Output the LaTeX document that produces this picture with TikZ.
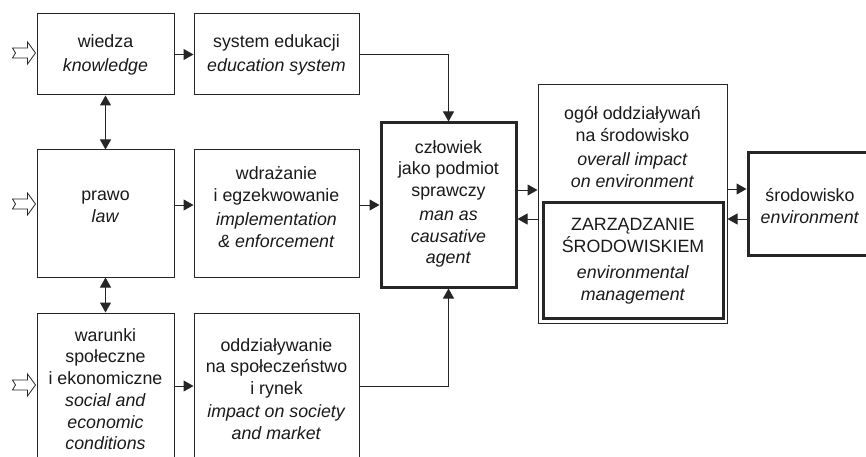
\documentclass[tikz,border=0pt]{standalone}
\usepackage{fontspec}
\setmainfont{Liberation Sans}
\usetikzlibrary{arrows.meta,calc}
\definecolor{ln}{HTML}{262626}
\definecolor{tx}{HTML}{1A1A1A}
\begin{document}
\begin{tikzpicture}[x=1pt,y=-1pt,
  box/.style={draw=ln, line width=1pt, inner sep=0pt},
  thickbox/.style={draw=ln, line width=3pt, inner sep=0pt},
  txt/.style={align=center, text=tx, inner sep=0pt, font=\fontsize{17.8}{21.5}\selectfont},
  arr/.style={draw=ln, line width=1pt, -{Triangle[length=10pt,width=11pt]}},
  darr/.style={draw=ln, line width=1pt, {Triangle[length=10pt,width=11pt]}-{Triangle[length=10pt,width=11pt]}},
  hollow/.pic={\draw[ln, line width=0.8pt, fill=white] (-23,-5) -- (-8,-5) -- (-8,-11) -- (0,0) -- (-8,11) -- (-8,5) -- (-23,5) -- (-20,0) -- cycle;}
]
\useasboundingbox (0,0) rectangle (866,457);
\clip (0,0) rectangle (866,457);
\fill[white] (0,0) rectangle (866,457);

% boxes
\node[box, minimum width=137pt, minimum height=81pt] (wiedza) at (105.5,54.5) {};
\node[box, minimum width=165pt, minimum height=81pt] (system) at (276.5,54.5) {};
\node[box, minimum width=137pt, minimum height=127pt] (prawo) at (105.5,213.5) {};
\node[box, minimum width=165pt, minimum height=127pt] (wdr) at (276.5,213.5) {};
\node[box, minimum width=137pt, minimum height=146pt] (warunki) at (105.5,386) {};
\node[box, minimum width=165pt, minimum height=146pt] (oddz) at (276.5,386) {};
\node[thickbox, minimum width=135pt, minimum height=164pt] (czl) at (448.5,205) {};
\node[box, minimum width=189pt, minimum height=238pt] (ogol) at (632.5,204) {};
\node[thickbox, minimum width=180pt, minimum height=116pt] (zarz) at (633,260) {};
\node[thickbox, minimum width=122pt, minimum height=102pt] (srod) at (809,204) {};

% texts
\node[txt] (wiedzaT) at (105.5,55) {wiedza\\[3pt]\textit{knowledge}};
\node[txt] (systemT) at (276.5,55) {system edukacji\\[3pt]\textit{education system}};
\node[txt] (prawoT) at (105.5,207) {prawo\\\textit{law}};
\node[txt] (wdrT) at (276.5,207) {wdrażanie\\i egzekwowanie\\[3pt]\textit{implementation}\\\textit{\& enforcement}};
\node[txt] (warunkiT) at (105.5,389) {warunki\\społeczne\\i ekonomiczne\\[1pt]\textit{social and}\\\textit{economic}\\\textit{conditions}};
\node[txt] (oddzT) at (276.5,389) {oddziaływanie\\na społeczeństwo\\i rynek\\[2pt]\textit{impact on society}\\\textit{and market}};
\node[txt] (czlT) at (448.5,204) {człowiek\\jako podmiot\\sprawczy\\[3pt]\textit{man as}\\\textit{causative}\\\textit{agent}};
\node[txt] (ogolT) at (632.5,147) {ogół oddziaływań\\na środowisko\\[3pt]\textit{overall impact}\\\textit{on environment}};
\node[txt] (zarzT) at (633,261) {ZARZĄDZANIE\\ŚRODOWISKIEM\\[5pt]\textit{environmental}\\\textit{management}};
\node[txt] (srodT) at (810,206) {środowisko\\\textit{environment}};

% hollow input arrows
\pic at ([xshift=-1pt]wiedza.west |- 0,53) {hollow};
\pic at ([xshift=-1pt]prawo.west |- 0,204) {hollow};
\pic at ([xshift=-1pt]warunki.west |- 0,385) {hollow};

% connectors
\draw[arr] (wiedza.east) -- (system.west);
\draw[arr] (prawo.east |- czl.center) -- (wdr.west |- czl.center);
\draw[arr] (wdr.east |- czl.center) -- (czl.west);
\draw[arr] (warunki.east) -- (oddz.west);
\draw[arr] (system.east) -| (czl.north);
\draw[arr] (oddz.east) -| (czl.south);
\draw[darr] (wiedza.south) -- (prawo.north);
\draw[darr] (prawo.south) -- (warunki.north);
\draw[arr] ([yshift=15pt]czl.east) -- ([yshift=15pt]czl.east -| ogol.west);
\draw[arr] ([yshift=-15pt]ogol.west) -- ([yshift=-15pt]ogol.west -| czl.east);
\draw[arr] ([yshift=15pt]ogol.east) -- ([yshift=15pt]ogol.east -| srod.west);
\draw[arr] ([yshift=-15pt]srod.west) -- ([yshift=-15pt]srod.west -| ogol.east);
\end{tikzpicture}
\end{document}
